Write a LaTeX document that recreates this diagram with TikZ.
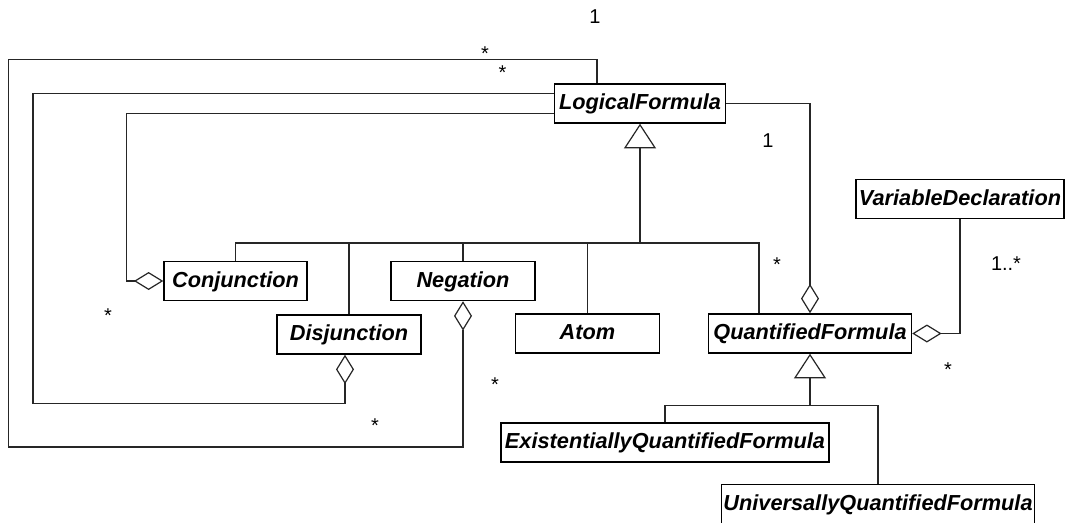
\documentclass[tikz,border=0pt]{standalone}
\usepackage{fontspec}
\setmainfont{Liberation Sans}
\usetikzlibrary{arrows.meta}
\begin{document}
\begin{tikzpicture}[x=0.75pt,y=-0.75pt,
  cls/.style={draw=black, line width=1.1pt, fill=white, inner sep=0pt,
    minimum height=29.25pt, text height=12pt, text depth=2.5pt,
    font=\fontsize{16.3}{19}\selectfont\bfseries\itshape},
  conn/.style={draw=black!85, line width=0.8pt},
  agg/.style={conn, {Diamond[open, length=22pt, width=13.5pt, line width=0.9pt]}-},
  gen/.style={conn, -{Triangle[open, length=18.5pt, width=24pt, line width=0.9pt]}},
  mult/.style={inner sep=0pt, font=\fontsize{15}{17}\selectfont}
]
\clip (0,0) rectangle (1066,522);
\fill[white] (0,0) rectangle (1066,522);

% classes
\node[cls, minimum width=128.25pt] (lf)   at (640,103.5) {LogicalFormula};
\node[cls, minimum width=107.25pt] (conj) at (235.5,281) {Conjunction};
\node[cls, minimum width=108pt]    (disj) at (349,334.5) {Disjunction};
\node[cls, minimum width=108pt]    (neg)  at (463,281)   {Negation};
\node[cls, minimum width=108pt]    (atom) at (587.5,333.5) {Atom};
\node[cls, minimum width=152.25pt] (qf)   at (810,333.5) {QuantifiedFormula};
\node[cls, minimum width=156pt]    (vd)   at (960,199)   {VariableDeclaration};
\node[cls, minimum width=246pt]    (ex)   at (665,442.5) {ExistentiallyQuantifiedFormula};
\node[cls, minimum width=234.75pt] (univ) at (878,504)   {UniversallyQuantifiedFormula};

% junction points and loop corners
\coordinate (hubA) at (640,243);
\coordinate (hubB) at (810,405.5);
\coordinate (cornerD) at (33,403.5);
\coordinate (cornerN) at (8.5,447);
\coordinate (cornerT) at (597,59.5);

% generalisation towards LogicalFormula
\draw[conn] (conj.north) |- (hubA);
\draw[conn] (disj.north) |- (hubA);
\draw[conn] (neg.north) |- (hubA);
\draw[conn] (atom.north) |- (hubA);
\draw[conn] ([xshift=-38.25pt]qf.north) |- (hubA);
\draw[conn, line width=1.5pt] (disj.north |- hubA) -- (hubA);
\draw[gen, line width=1.8pt] (hubA) -- (lf.south);

% generalisation towards QuantifiedFormula
\draw[conn] (ex.north) |- (hubB);
\draw[conn] (univ.north) |- (hubB);
\draw[gen] (hubB) -- (qf.south);

% aggregations
\draw[agg] (conj.west) -- ++(-36.5,0) |- ([yshift=-7.5pt]lf.west);
\draw[agg] ([xshift=-3pt]disj.south) |- (cornerD) |- ([yshift=7.5pt]lf.west);
\draw[agg] (neg.south) |- (cornerN) |- (cornerT) -- ([xshift=-32.25pt]lf.north);
\draw[agg] (qf.north) |- (lf.east);
\draw[agg] (qf.east) -| (vd.south);

% multiplicities
\node[mult] (m1)  at (595,17)    {1};
\node[mult] (m2)  at (485,54)    {*};
\node[mult] (m3)  at (502.5,73)  {*};
\node[mult] (m4)  at (768,141)   {1};
\node[mult] (m5)  at (108,316)   {*};
\node[mult] (m6)  at (495,385)   {*};
\node[mult] (m7)  at (375,426)   {*};
\node[mult] (m8)  at (777,265)   {*};
\node[mult] (m9)  at (948,370)   {*};
\node[mult] (m10) at (1006,264)  {1..*};
\end{tikzpicture}
\end{document}
